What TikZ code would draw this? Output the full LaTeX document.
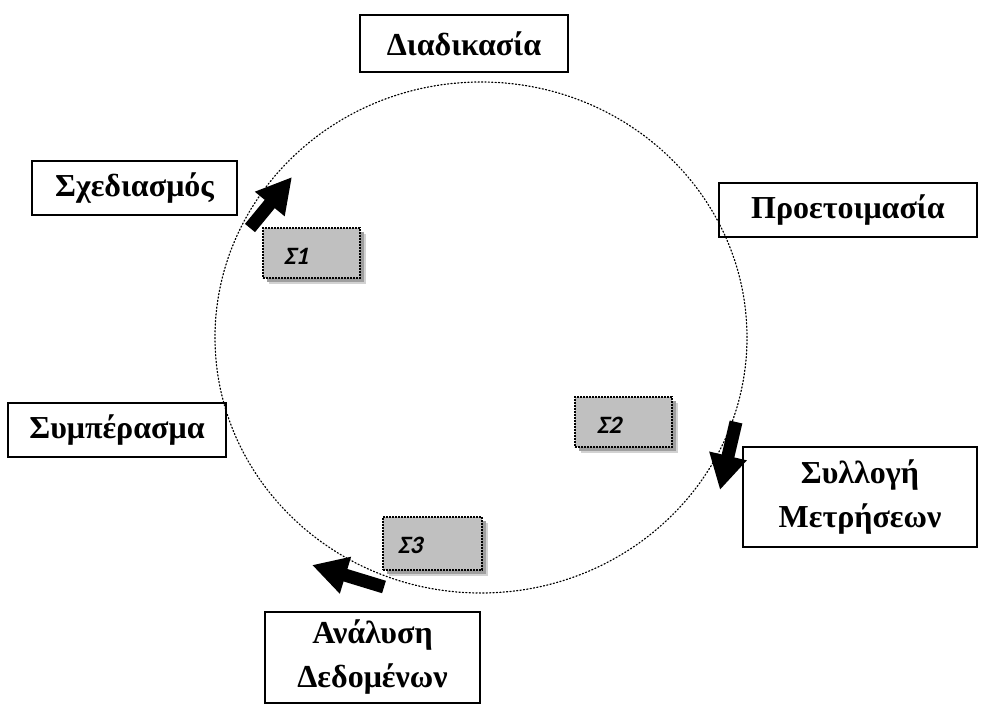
\documentclass[tikz,border=0pt]{standalone}
\usepackage{fontspec}
\setmainfont{Liberation Serif}
\newfontfamily\calibbi{Carlito}[FakeSlant=0.22]
\usetikzlibrary{arrows.meta}
\definecolor{sgray}{HTML}{C0C0C0}
\begin{document}
\begin{tikzpicture}[x=1pt,y=1pt,
  lbl/.style={draw=black, line width=1.3pt, font=\bfseries\fontsize{32}{44}\selectfont, inner sep=0pt, align=center},
  sbox/.style={fill=sgray, draw=black, line width=1.6pt, dash pattern=on 1.6pt off 1.4pt, inner sep=0pt},
  shad/.style={fill=gray!75, draw=none, inner sep=0pt},
  shad2/.style={fill=gray!35, draw=none, inner sep=0pt},
  slabel/.style={font=\fontsize{25}{29}\selectfont\calibbi\bfseries, inner sep=0pt},
  blk/.style={line width=13pt, -{Triangle[length=35pt,width=36pt]}, black}]
\useasboundingbox (0,0) rectangle (989,-704);
% cycle
\draw[line width=1.2pt, dash pattern=on 1.2pt off 2.2pt, line cap=round] (481,-337.5) ellipse [x radius=266, y radius=255.5];
% labelled boxes
\node[lbl, minimum width=208pt, minimum height=57pt] (proc) at (464,-43.5) {Διαδικασία};
\node[lbl, minimum width=205pt, minimum height=54pt] (design) at (134.5,-188) {Σχεδιασμός};
\node[lbl, minimum width=258pt, minimum height=54pt] (prep) at (848,-210) {Προετοιμασία};
\node[lbl, minimum width=218pt, minimum height=54pt] (concl) at (117,-430) {Συμπέρασμα};
\node[lbl, minimum width=234pt, minimum height=100pt] (collect) at (860,-497) {Συλλογή\\Μετρήσεων};
\node[lbl, minimum width=215pt, minimum height=91pt] (analysis) at (372.5,-657.5) {Ανάλυση\\Δεδομένων};
% shaded step boxes
\foreach \n/\cx/\cy/\w/\h in {s1/311.5/-253/97/50, s2/623.5/-422/97/50, s3/432.5/-543.5/99/53}{
  \node[shad2, minimum width=\w pt, minimum height=\h pt] at (\cx+6,\cy-6) {};
  \node[shad, minimum width=\w pt, minimum height=\h pt] at (\cx+4,\cy-4) {};
  \node[sbox, minimum width=\w pt, minimum height=\h pt] (\n) at (\cx,\cy) {};
}
\node[slabel] (t1) at (296,-256) {Σ1};
\node[slabel] (t2) at (609,-425) {Σ2};
\node[slabel] (t3) at (410,-545) {Σ3};
% block arrows
\coordinate (a1t) at (250,-228);
\coordinate (a1h) at (292,-177);
\coordinate (a2t) at (736,-422);
\coordinate (a2h) at (720,-490);
\coordinate (a3t) at (384,-587);
\coordinate (a3h) at (312,-565);
\draw[blk] (a1t) -- (a1h);
\draw[blk] (a2t) -- (a2h);
\draw[blk] (a3t) -- (a3h);
\end{tikzpicture}
\end{document}
